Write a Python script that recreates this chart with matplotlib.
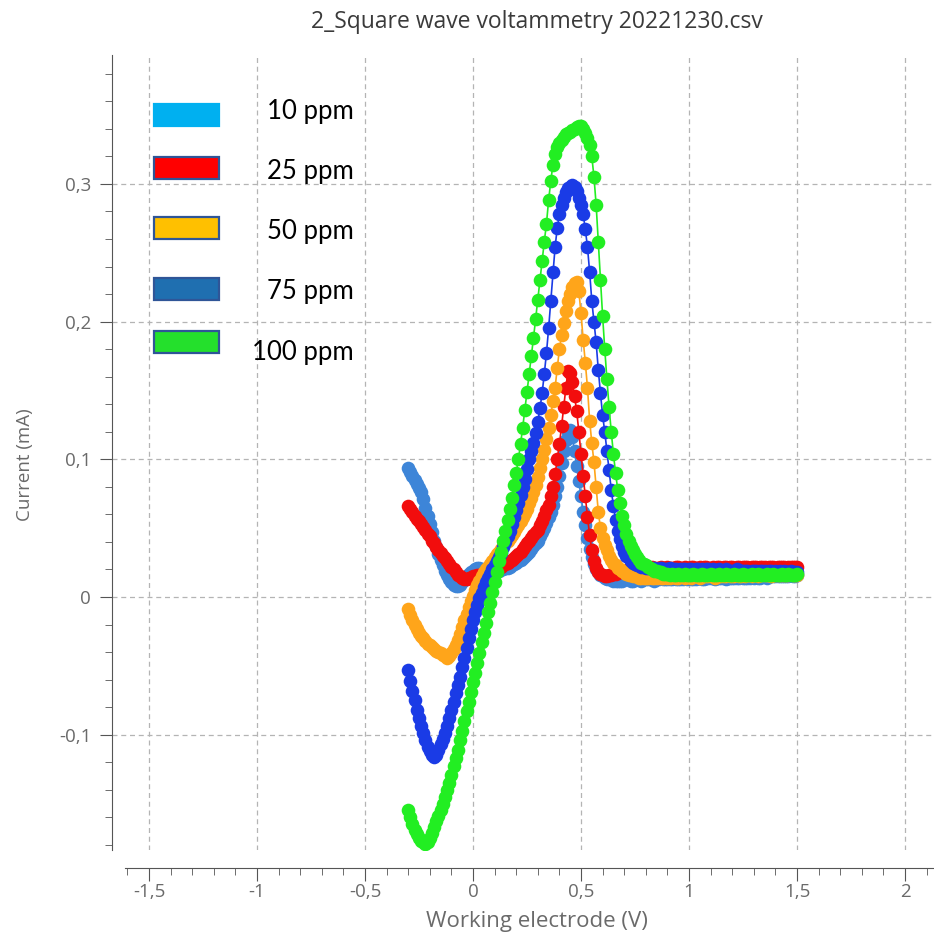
import numpy as np
import matplotlib
matplotlib.use("Agg")
import matplotlib.pyplot as plt
from matplotlib.patches import Rectangle
from matplotlib.ticker import MultipleLocator, FuncFormatter

# potential sweep of the working electrode (V), one point every 10 mV
potential = np.round(np.arange(-0.30, 1.5001, 0.01), 2)

labels = ["10 ppm", "25 ppm", "50 ppm", "75 ppm", "100 ppm"]
line_colors = ["#3d85d8", "#f20d0d", "#ffa51a", "#1a3be6", "#22ee22"]
legend_colors = ["#00b0f0", "#ff0000", "#ffc000", "#1f6fb0", "#24e02c"]

# current (mA)
i_10 = [
    .094, .091, .088, .085, .082, .079, .076, .071, .065, .059,
    .053, .047, .041, .036, .031, .027, .023, .019, .016, .013,
    .011, .009, .008, .008, .009, .011, .013, .015, .017, .018,
    .019, .020, .021, .021, .020, .019, .018, .018, .018, .018,
    .018, .019, .019, .020, .020, .021, .021, .022, .023, .024,
    .025, .026, .027, .028, .030, .031, .033, .035, .037, .039,
    .041, .044, .047, .050, .054, .058, .062, .067, .073, .080,
    .088, .097, .106, .114, .120, .121, .116, .106, .095, .084,
    .073, .062, .052, .043, .035, .029, .024, .020, .018, .016,
    .015, .014, .013, .013, .013, .012, .012, .012, .012, .012,
    .013, .013, .013, .012, .012, .013, .013, .013, .012, .013,
    .013, .013, .013, .013, .012, .013, .013, .014, .013, .013,
    .013, .013, .013, .014, .013, .013, .013, .013, .014, .013,
    .014, .013, .013, .013, .014, .014, .013, .013, .014, .014,
    .014, .014, .013, .014, .014, .014, .014, .013, .014, .014,
    .014, .014, .014, .014, .015, .014, .014, .014, .014, .015,
    .014, .015, .014, .014, .015, .015, .014, .015, .015, .015,
    .015, .015, .015, .015, .015, .015, .015, .016, .015, .015,
    .016,
]
i_25 = [
    .066, .064, .062, .059, .057, .055, .053, .051, .049, .046,
    .044, .041, .039, .036, .034, .032, .030, .028, .026, .024,
    .022, .020, .018, .016, .015, .014, .013, .013, .014, .014,
    .015, .015, .016, .016, .016, .017, .017, .018, .018, .019,
    .020, .020, .021, .022, .023, .024, .025, .026, .027, .028,
    .030, .031, .033, .035, .037, .039, .041, .043, .045, .047,
    .049, .052, .055, .059, .063, .067, .073, .080, .089, .100,
    .111, .124, .138, .152, .164, .163, .156, .146, .135, .120,
    .104, .088, .073, .058, .045, .034, .026, .021, .018, .017,
    .016, .015, .015, .016, .016, .017, .017, .018, .018, .019,
    .019, .019, .020, .020, .020, .020, .021, .021, .020, .021,
    .021, .021, .021, .022, .021, .021, .021, .022, .021, .021,
    .022, .021, .021, .021, .022, .022, .021, .021, .022, .021,
    .021, .022, .022, .021, .021, .022, .021, .022, .022, .021,
    .021, .022, .021, .022, .022, .021, .022, .022, .021, .022,
    .022, .021, .022, .022, .021, .022, .022, .022, .021, .022,
    .022, .022, .021, .022, .022, .022, .021, .022, .022, .022,
    .021, .022, .022, .022, .022, .021, .022, .022, .022, .022,
    .022,
]
i_50 = [
    -.009, -.013, -.017, -.020, -.023, -.026, -.028, -.030, -.032, -.034,
    -.035, -.036, -.038, -.039, -.040, -.041, -.042, -.043, -.044, -.043,
    -.041, -.038, -.035, -.031, -.027, -.022, -.017, -.012, -.007, -.003,
    .001, .005, .009, .012, .015, .018, .020, .022, .024, .026,
    .029, .031, .033, .035, .037, .039, .041, .043, .045, .047,
    .050, .052, .055, .058, .061, .064, .068, .072, .076, .081,
    .087, .094, .100, .107, .115, .123, .132, .142, .152, .166,
    .180, .190, .199, .208, .215, .220, .225, .228, .229, .222,
    .206, .187, .170, .152, .128, .112, .098, .080, .062, .050,
    .043, .038, .034, .030, .027, .025, .023, .021, .020, .019,
    .018, .017, .016, .016, .015, .015, .015, .014, .014, .014,
    .014, .014, .015, .014, .014, .014, .015, .014, .014, .015,
    .014, .014, .015, .015, .014, .014, .015, .015, .014, .015,
    .015, .014, .015, .015, .015, .014, .015, .015, .015, .015,
    .015, .015, .014, .015, .015, .015, .015, .015, .016, .015,
    .015, .015, .016, .015, .015, .016, .015, .016, .016, .015,
    .016, .016, .015, .016, .016, .016, .016, .016, .015, .016,
    .016, .016, .016, .016, .016, .016, .016, .017, .016, .016,
    .016,
]
i_75 = [
    -.053, -.061, -.068, -.075, -.082, -.088, -.094, -.099, -.104, -.109,
    -.112, -.115, -.116, -.115, -.111, -.107, -.103, -.099, -.094, -.088,
    -.082, -.076, -.070, -.064, -.058, -.051, -.044, -.037, -.030, -.023,
    -.017, -.011, -.006, -.001, .003, .007, .011, .014, .017, .020,
    .023, .026, .029, .032, .036, .040, .044, .048, .053, .058,
    .063, .068, .074, .080, .086, .093, .100, .106, .112, .119,
    .127, .137, .148, .162, .177, .195, .215, .236, .254, .268,
    .278, .285, .290, .294, .297, .298, .299, .298, .295, .290,
    .285, .278, .267, .254, .236, .215, .200, .185, .165, .148,
    .132, .120, .106, .092, .078, .066, .056, .048, .042, .037,
    .033, .030, .028, .026, .025, .024, .023, .023, .022, .022,
    .021, .021, .021, .020, .021, .020, .020, .021, .020, .020,
    .020, .021, .020, .020, .020, .019, .020, .020, .020, .019,
    .020, .020, .019, .020, .020, .019, .020, .019, .020, .020,
    .019, .020, .019, .019, .020, .019, .019, .020, .019, .019,
    .019, .019, .020, .019, .019, .019, .019, .019, .018, .019,
    .019, .019, .018, .019, .019, .019, .018, .019, .019, .018,
    .019, .018, .019, .018, .019, .018, .018, .019, .018, .018,
    .018,
]
i_100 = [
    -.155, -.160, -.165, -.169, -.172, -.175, -.177, -.178, -.179, -.178,
    -.175, -.171, -.167, -.163, -.159, -.155, -.150, -.145, -.140, -.135,
    -.129, -.123, -.117, -.111, -.104, -.097, -.090, -.083, -.076, -.069,
    -.062, -.055, -.048, -.041, -.033, -.026, -.019, -.011, -.004, .004,
    .011, .018, .026, .033, .041, .048, .056, .064, .072, .081,
    .090, .100, .111, .123, .136, .149, .162, .175, .188, .202,
    .216, .230, .244, .258, .271, .288, .302, .314, .322, .327,
    .330, .332, .334, .336, .337, .338, .339, .340, .341, .342,
    .342, .340, .337, .333, .328, .320, .305, .285, .258, .230,
    .204, .180, .158, .138, .120, .104, .090, .078, .068, .059,
    .052, .046, .041, .037, .034, .031, .029, .027, .025, .024,
    .023, .022, .021, .020, .019, .019, .018, .018, .017, .017,
    .017, .016, .017, .016, .016, .017, .016, .016, .017, .016,
    .016, .016, .017, .016, .016, .016, .017, .016, .016, .016,
    .017, .016, .016, .016, .017, .016, .016, .017, .016, .016,
    .016, .017, .016, .016, .016, .017, .016, .016, .016, .017,
    .016, .016, .017, .016, .016, .016, .017, .016, .016, .017,
    .016, .016, .016, .017, .016, .016, .017, .016, .016, .016,
    .017,
]
series = [i_10, i_25, i_50, i_75, i_100]

W, H = 934, 932
fig = plt.figure(figsize=(W / 100, H / 100), dpi=100)
ax = fig.add_axes([112 / W, (H - 850) / H, (W - 112) / W, (850 - 55) / H])

for vals, col in zip(series, line_colors):
    ax.plot(potential, vals, "-o", color=col, lw=1.2, ms=9.8, mec=col, mew=0)

ax.set_xlim(-1.671, 2.134)
ax.set_ylim(-0.1837, 0.3936)

ax.xaxis.set_major_locator(MultipleLocator(0.5))
ax.xaxis.set_minor_locator(MultipleLocator(0.1))
ax.yaxis.set_major_locator(MultipleLocator(0.1))
ax.yaxis.set_minor_locator(MultipleLocator(0.02))

def comma(v, pos):
    s = f"{v:.1f}".rstrip("0").rstrip(".")
    if s in ("-0", ""):
        s = "0"
    return s.replace(".", ",")

ax.xaxis.set_major_formatter(FuncFormatter(comma))
ax.yaxis.set_major_formatter(FuncFormatter(comma))

ax.grid(True, which="major", ls=(0, (4, 3)), color="#b4b4b4", lw=0.9)
ax.set_axisbelow(True)

for s in ("top", "right"):
    ax.spines[s].set_visible(False)
ax.spines["left"].set_color("#555555")
ax.spines["bottom"].set_color("#555555")
ax.spines["bottom"].set_position(("outward", 13))
ax.spines["bottom"].set_bounds(-1.611, 2.134)

ax.tick_params(which="major", length=9, color="#555555", labelcolor="#6a6a6a",
               labelsize=13.5, pad=6)
ax.tick_params(axis="x", which="major", pad=2)
ax.tick_params(which="minor", length=5, color="#555555")
for lab in ax.get_xticklabels() + ax.get_yticklabels():
    lab.set_family("Open Sans")

ax.set_xlabel("Working electrode (V)", family="Open Sans", fontsize=16,
              color="#6a6a6a", va="center")
ax.xaxis.set_label_coords((537 - 112) / (W - 112), (850 - 921) / (850 - 55))
ax.set_ylabel("Current (mA)", family="Open Sans", fontsize=13.5,
              color="#6a6a6a", va="center")
ax.yaxis.set_label_coords((25 - 112) / (W - 112), (850 - 465) / (850 - 55))
fig.text(537 / W, 1 - 22 / H, "2_Square wave voltammetry 20221230.csv",
         family="Open Sans", fontsize=16.5, color="#3a3a3a",
         ha="center", va="center")

# hand-drawn legend boxes
box_tops = [104, 157, 217, 278, 331]
text_y = [112, 171, 232, 291, 352]
for k, (lab, col) in enumerate(zip(labels, legend_colors)):
    edge = col if k == 0 else "#2f5597"
    fig.add_artist(Rectangle((154 / W, 1 - (box_tops[k] + 22) / H), 65 / W, 22 / H,
                             transform=fig.transFigure, facecolor=col,
                             edgecolor=edge, lw=1.6))
    fig.text(354 / W, 1 - text_y[k] / H, lab, family="Lato", fontsize=18.5,
             color="black", ha="right", va="center")

fig.savefig("out.png", dpi=100)
